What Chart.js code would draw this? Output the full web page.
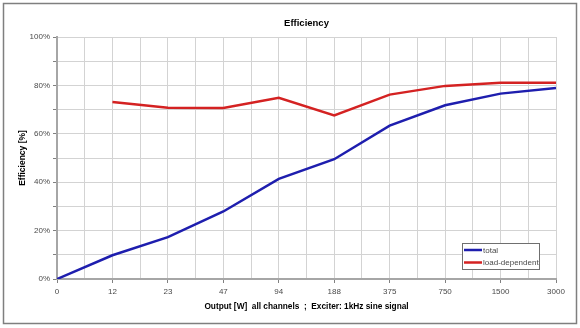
<!DOCTYPE html>
<html>
<head>
<meta charset="utf-8">
<script src="https://cdn.jsdelivr.net/npm/chart.js@4"></script>
<style>
  html, body { margin: 0; padding: 0; background: #fff; }
  #wrap { width: 580px; height: 328px; }
</style>
</head>
<body>
<div id="wrap"><canvas id="eff" width="580" height="328"></canvas></div>
<script>
// ── DATA ──
const chartTitle    = 'Efficiency';
const categories    = ['0', '12', '23', '47', '94', '188', '375', '750', '1500', '3000'];
const totalEff      = [0, 9.8, 17.3, 27.9, 41.4, 49.5, 63.4, 71.8, 76.6, 78.9];
const loadDepEff    = [null, 73.1, 70.8, 70.7, 74.9, 67.6, 76.2, 79.8, 81.1, 81.1];
const yTicks        = [0, 20, 40, 60, 80, 100];

const COLORS = {
  blue:  '#1e1eae',
  red:   '#d42222',
  grid:  '#d3d3d3',
  axis:  '#a6a6a6',
  text:  '#4a4a4a',
  frame: '#7f7f7f',
};

const FONT = "'Liberation Sans', Arial, sans-serif";

const toPoints = arr => arr.map((v, i) => ({ x: i, y: v }));

// ── PLUGIN: white background, outer frame, title over the plot ──
const framePlugin = {
  id: 'frame',
  beforeDraw(chart) {
    const c = chart.ctx;
    c.save();
    c.fillStyle = '#fff';
    c.fillRect(0, 0, chart.width, chart.height);
    c.strokeStyle = COLORS.frame;
    c.lineWidth = 1.5;
    c.strokeRect(3.5, 3.5, chart.width - 7, chart.height - 8);
    c.restore();
  },
  afterDraw(chart) {
    const c  = chart.ctx;
    const ca = chart.chartArea;
    c.save();
    c.fillStyle = '#000';
    c.font = `bold 9.5px ${FONT}`;
    c.textAlign = 'center';
    c.textBaseline = 'middle';
    c.fillText(chartTitle, (ca.left + ca.right) / 2, 23);
    c.restore();
  },
};

// ── PLUGIN: boxed legend inside the plot area ──
const boxLegend = {
  id: 'boxLegend',
  afterDraw(chart) {
    const c = chart.ctx;
    const x = 462, y = 243, w = 77, h = 26;
    c.save();
    c.fillStyle = '#fff';
    c.fillRect(x, y, w, h);
    c.strokeStyle = '#6f6f6f';
    c.lineWidth = 1;
    c.strokeRect(x + 0.5, y + 0.5, w, h);
    c.font = `8px ${FONT}`;
    c.textBaseline = 'middle';
    chart.data.datasets.forEach((ds, i) => {
      const ly = y + 7 + i * 12.5;
      c.strokeStyle = ds.borderColor;
      c.lineWidth = 2.5;
      c.beginPath();
      c.moveTo(x + 2, ly);
      c.lineTo(x + 20, ly);
      c.stroke();
      c.fillStyle = COLORS.text;
      c.fillText(ds.label, x + 21, ly + 0.5);
    });
    c.restore();
  },
};

new Chart(document.getElementById('eff'), {
  type: 'line',
  data: {
    datasets: [
      {
        label:       'total',
        data:        toPoints(totalEff),
        borderColor: COLORS.blue,
        borderWidth: 2.5,
        pointRadius: 0,
        tension:     0,
      },
      {
        label:       'load-dependent',
        data:        toPoints(loadDepEff),
        borderColor: COLORS.red,
        borderWidth: 2.5,
        pointRadius: 0,
        tension:     0,
      },
    ],
  },
  plugins: [framePlugin, boxLegend],
  options: {
    responsive: false,
    animation:  false,
    layout: { padding: { left: 0, right: 24, top: 37, bottom: 0 } },
    plugins: {
      legend:  { display: false },
      tooltip: { enabled: false },
      title:   { display: false },
    },
    scales: {
      x: {
        type: 'linear',
        min:  0,
        max:  categories.length - 1,
        afterFit: s => { s.height = 49; },
        afterBuildTicks: s => {
          s.ticks = [];
          for (let v = 0; v <= categories.length - 1; v += 0.5) s.ticks.push({ value: v });
        },
        grid: {
          color:      COLORS.grid,
          lineWidth:  1,
          tickLength: 4,
          tickColor:  ctx => Number.isInteger(ctx.tick && ctx.tick.value) ? '#808080' : 'rgba(0,0,0,0)',
        },
        border: { color: COLORS.axis, width: 2 },
        ticks: {
          color:       COLORS.text,
          font:        { family: FONT, size: 8 },
          padding:     4,
          maxRotation: 0,
          autoSkip:    false,
          callback:    v => Number.isInteger(v) ? categories[v] : '',
        },
        title: {
          display: true,
          text:    'Output [W]  all channels  ;  Exciter: 1kHz sine signal',
          color:   '#000',
          font:    { family: FONT, size: 8.3, weight: 'bold' },
          padding: { top: 0, bottom: 16 },
        },
      },
      y: {
        min: 0,
        max: 100,
        afterFit: s => { s.width = 57; },
        ticks: {
          stepSize: 10,
          color:    COLORS.text,
          font:     { family: FONT, size: 8 },
          padding:  3,
          callback: v => yTicks.includes(v) ? v + '%' : '',
        },
        grid: {
          color:      COLORS.grid,
          lineWidth:  1,
          tickLength: 4,
          tickColor:  '#808080',
        },
        border: { color: COLORS.axis, width: 2 },
        title: {
          display: true,
          text:    'Efficiency [%]',
          color:   '#000',
          font:    { family: FONT, size: 8.5, weight: 'bold' },
          padding: { top: 18, bottom: 0 },
        },
      },
    },
  },
});
</script>
</body>
</html>
